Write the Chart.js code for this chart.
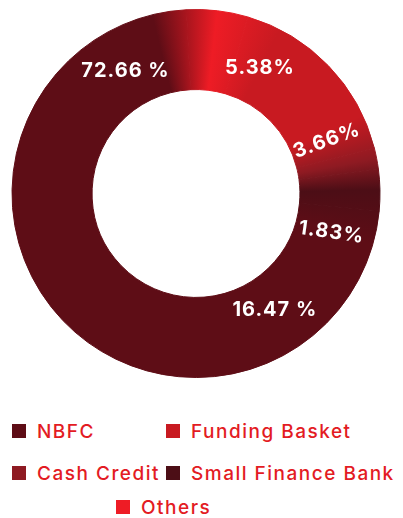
<!DOCTYPE html>
<html>
<head>
<meta charset="utf-8">
<script src="https://cdn.jsdelivr.net/npm/chart.js@4.4.1/dist/chart.umd.min.js"></script>
<style>
  body { margin: 0; background: #fff; width: 403px; height: 518px; overflow: hidden; position: relative; font-family: Inter, sans-serif; }
  .chart-box { position: absolute; left: 0; top: 0; width: 403px; height: 386px; }
  .legend-item { position: absolute; display: flex; align-items: center; height: 18px; color: #e31b23; font-size: 19px; font-weight: 500; letter-spacing: 1.5px; white-space: nowrap; }
  .legend-item .box { width: 14px; height: 14px; margin-right: 11px; flex: none; }
</style>
</head>
<body>
<div class="chart-box"><canvas id="ring"></canvas></div>
<div id="legend"></div>
<script>
// segments, clockwise from the top
const categories = ['Others', 'Funding Basket', 'Cash Credit', 'Small Finance Bank', 'NBFC'];
const shares = [5.38, 16.47, 1.83, 3.66, 72.66];
const colors = ['#ee1c25', '#c81a21', '#8e1a22', '#4c0e16', '#5e0d16'];
// legend reads in this order
const legendOrder = ['NBFC', 'Funding Basket', 'Cash Credit', 'Small Finance Bank', 'Others'];

const ringRotation = -3;
const blend = 0.03; // soft seam between neighbouring segments (fraction of the ring)

// one conic gradient for the whole ring so the segments melt into each other
const ringFill = (chart) => {
  const area = chart.chartArea;
  if (!area) return colors[0];
  const cx = (area.left + area.right) / 2;
  const cy = (area.top + area.bottom) / 2;
  const total = shares.reduce((a, b) => a + b, 0);
  const last = shares.length - 1;
  const origin = ((total - shares[last]) / total + 1) / 2; // middle of the last segment
  const start = (ringRotation - 90) * Math.PI / 180 + origin * 2 * Math.PI;
  const g = chart.ctx.createConicGradient(start, cx, cy);
  g.addColorStop(0, colors[last]);
  let acc = 0;
  shares.forEach((v, i) => {
    const s = acc / total;
    const e = (acc + v) / total;
    acc += v;
    const h = Math.min(blend, (e - s) / 2);
    [s + h, e - h].forEach((p) => g.addColorStop(((p - origin) % 1 + 1) % 1, colors[i]));
  });
  g.addColorStop(1, colors[last]);
  return g;
};

// percentage labels sitting on the ring
const ringLabels = {
  id: 'ringLabels',
  afterDatasetsDraw(chart, args, opts) {
    const meta = chart.getDatasetMeta(0);
    const values = chart.data.datasets[0].data;
    const ctx = chart.ctx;
    ctx.save();
    ctx.fillStyle = opts.color;
    ctx.font = opts.font;
    ctx.letterSpacing = opts.spacing;
    ctx.textAlign = 'center';
    ctx.textBaseline = 'middle';
    meta.data.forEach((arc, i) => {
      const { x, y, innerRadius, outerRadius } = arc.getProps(['x', 'y', 'innerRadius', 'outerRadius'], true);
      const r = (innerRadius + outerRadius) / 2 - opts.inset;
      const a = (opts.angles[i] - 90) * Math.PI / 180;
      ctx.save();
      ctx.translate(x + r * Math.cos(a), y + r * Math.sin(a));
      ctx.rotate(opts.tilt[i] * Math.PI / 180);
      ctx.fillText(values[i].toFixed(2) + (opts.spaced[i] ? ' %' : '%'), 0, 0);
      ctx.restore();
    });
    ctx.restore();
  }
};

const chart = new Chart(document.getElementById('ring'), {
  type: 'doughnut',
  data: {
    labels: categories,
    datasets: [{
      data: shares,
      backgroundColor: (c) => ringFill(c.chart),
      borderColor: (c) => ringFill(c.chart),
      borderWidth: 1,
      hoverOffset: 0,
      offset: 0,
    }]
  },
  options: {
    responsive: true,
    maintainAspectRatio: false,
    animation: false,
    cutout: '56.5%',
    rotation: ringRotation,
    layout: { padding: { left: 9, right: 20, top: 9, bottom: 8 } },
    events: [],
    plugins: {
      legend: { display: false },
      tooltip: { enabled: false },
      ringLabels: {
        color: '#ffffff',
        font: '700 20px Inter, sans-serif',
        spacing: '1px',
        inset: 3,
        // label spots around the ring, in the order of the segments
        angles: [27, 146, 106, 68, 330],
        tilt: [0, 0, 8, -20, 0],
        spaced: [false, true, false, false, true],
      },
    },
  },
  plugins: [ringLabels],
});

// html legend: two columns, last entry on its own row
const legendSlots = [
  { left: 12, top: 422 }, { left: 166, top: 422 },
  { left: 12, top: 464 }, { left: 166, top: 464 },
  { left: 116, top: 498 },
];
const legendEl = document.getElementById('legend');
legendOrder.forEach((name, k) => {
  const i = chart.data.labels.indexOf(name);
  const item = document.createElement('div');
  item.className = 'legend-item';
  item.style.left = legendSlots[k].left + 'px';
  item.style.top = legendSlots[k].top + 'px';
  const box = document.createElement('span');
  box.className = 'box';
  box.style.background = colors[i];
  item.appendChild(box);
  item.appendChild(document.createTextNode(name));
  legendEl.appendChild(item);
});
</script>
</body>
</html>
